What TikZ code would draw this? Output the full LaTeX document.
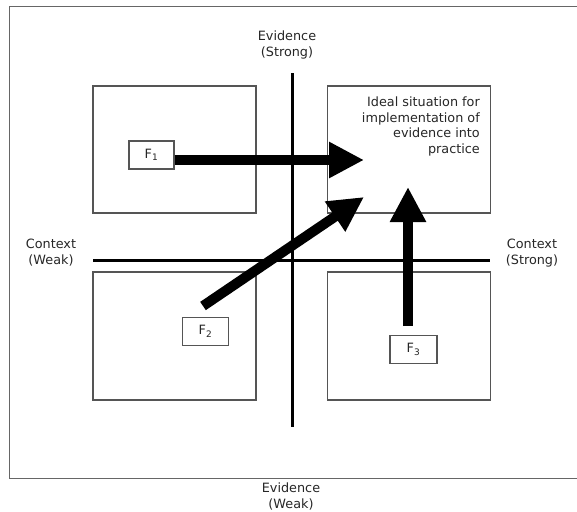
\documentclass[tikz,border=0pt]{standalone}
\usepackage{fontspec}
\setmainfont{DejaVu Sans}
\usetikzlibrary{arrows.meta}
\definecolor{boxgray}{HTML}{555555}
\definecolor{framegray}{HTML}{666666}
\definecolor{txt}{HTML}{262626}
\begin{document}
\begin{tikzpicture}[x=1pt,y=-1pt,
  quad/.style={draw=boxgray, line width=1.2pt, inner sep=0pt, minimum width=163pt, minimum height=127pt},
  fbox/.style={draw=boxgray, line width=1.1pt, inner sep=0pt, minimum width=46pt, minimum height=28pt, fill=white, text=txt, font=\fontsize{12.8}{15}\selectfont},
  lbl/.style={inner sep=0pt, align=center, text=txt, font=\fontsize{12.8}{16}\selectfont},
  axis/.style={line width=3pt, black},
  bigarrow/.style={line width=10pt, black, -{Triangle[length=35pt,width=34pt]}}
]
\useasboundingbox (0,0) rectangle (577,511);
% outer frame (open at right, cut by the page edge)
\draw[framegray, line width=1.5pt] (578,6.7) -- (9.5,6.7) -- (9.5,478.7) -- (578,478.7);
% quadrant boxes
\node[quad] (tl) at (174.5,149.5) {};
\node[quad] (tr) at (409,149.5) {};
\node[quad, minimum height=128pt] (bl) at (174.5,336) {};
\node[quad, minimum height=128pt] (br) at (409,336) {};
% axes
\coordinate (vt) at (292,73);
\coordinate (vb) at (292,427);
\coordinate (hl) at (93,260);
\coordinate (hr) at (490,260);
\draw[axis] (vt) -- (vb);
\draw[axis] (hl) -- (hr);
% labels
\node[lbl] (evs) at (287,45) {Evidence\\(Strong)};
\node[lbl] (evw) at (291,496) {Evidence\\(Weak)};
\node[lbl] (cw) at (51,253) {Context\\(Weak)};
\node[lbl] (cs) at (532,253) {Context\\(Strong)};
\node[lbl, align=right, anchor=north east, font=\fontsize{12.8}{15.6}\selectfont] (ideal) at (480,96.5) {Ideal situation for\\implementation of\\evidence into\\practice};
% factor boxes
\node[fbox, minimum width=45pt] (f1) at (151.5,155) {F\textsubscript{1}};
\node[fbox] (f2) at (205.5,331.5) {F\textsubscript{2}};
\node[fbox, minimum width=47pt] (f3) at (413.5,349.5) {F\textsubscript{3}};
% arrows
\coordinate (f1tip) at (364,160);
\coordinate (f2tail) at (203,306);
\coordinate (f2tip) at (364,197);
\coordinate (f3tail) at (408,326);
\coordinate (f3tip) at (408,187);
\draw[bigarrow] ([yshift=-5pt]f1.east) -- (f1tip);
\draw[bigarrow] (f2tail) -- (f2tip);
\draw[bigarrow] (f3tail) -- (f3tip);
\end{tikzpicture}
\end{document}
